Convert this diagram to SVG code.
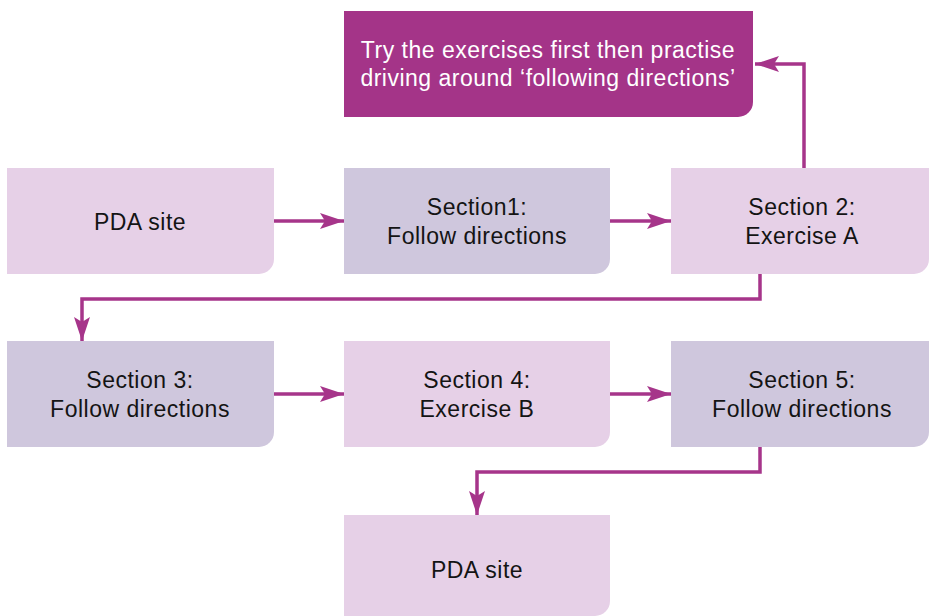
<svg xmlns="http://www.w3.org/2000/svg" width="933" height="616" viewBox="0 0 933 616">
<style>
.pink{fill:#e6d0e7}
.grey{fill:#cfc7dd}
.dark{fill:#a43488}
.t{font-family:"Liberation Sans",Arial,Helvetica,sans-serif;font-size:23px;letter-spacing:0.5px;fill:#141414;text-anchor:middle}
.w{fill:#ffffff}
.c{fill:none;stroke:#a6358a;stroke-width:3.5;marker-end:url(#ah)}
</style>
<defs>
<marker id="ah" markerUnits="userSpaceOnUse" markerWidth="26" markerHeight="18" refX="24" refY="8" orient="auto">
<path d="M0,0 L24,8 L0,16 L5,8 Z" fill="#a6358a"/>
</marker>
</defs>
<rect width="933" height="616" fill="#ffffff"/>
<g id="tip">
<path class="dark" d="M344,11 H753 V102 A15,15 0 0 1 738,117 H344 Z"/>
<text class="t w" x="548" y="58">Try the exercises first then practise</text>
<text class="t w" x="548" y="86">driving around ‘following directions’</text>
</g>
<g id="pda1">
<path class="pink" d="M7,168 H274 V259 A15,15 0 0 1 259,274 H7 Z"/>
<text class="t" x="140" y="230">PDA site</text>
</g>
<g id="section1">
<path class="grey" d="M344,168 H610 V259 A15,15 0 0 1 595,274 H344 Z"/>
<text class="t" x="477" y="215">Section1:</text>
<text class="t" x="477" y="244">Follow directions</text>
</g>
<g id="section2">
<path class="pink" d="M671,168 H929 V259 A15,15 0 0 1 914,274 H671 Z"/>
<text class="t" x="802" y="215">Section 2:</text>
<text class="t" x="802" y="244">Exercise A</text>
</g>
<g id="section3">
<path class="grey" d="M7,341 H274 V432 A15,15 0 0 1 259,447 H7 Z"/>
<text class="t" x="140" y="388">Section 3:</text>
<text class="t" x="140" y="417">Follow directions</text>
</g>
<g id="section4">
<path class="pink" d="M344,341 H610 V432 A15,15 0 0 1 595,447 H344 Z"/>
<text class="t" x="477" y="388">Section 4:</text>
<text class="t" x="477" y="417">Exercise B</text>
</g>
<g id="section5">
<path class="grey" d="M671,341 H929 V432 A15,15 0 0 1 914,447 H671 Z"/>
<text class="t" x="802" y="388">Section 5:</text>
<text class="t" x="802" y="417">Follow directions</text>
</g>
<g id="pda2">
<path class="pink" d="M344,515 H610 V601 A15,15 0 0 1 595,616 H344 Z"/>
<text class="t" x="477" y="578">PDA site</text>
</g>
<g id="connectors">
<path class="c" d="M274,221 H344"/>
<path class="c" d="M610,221 H671"/>
<path class="c" d="M804,168 V64 H755"/>
<path class="c" d="M760,274 V299 H82 V341"/>
<path class="c" d="M274,394 H344"/>
<path class="c" d="M610,394 H671"/>
<path class="c" d="M760,447 V472 H477 V515"/>
</g>
</svg>
